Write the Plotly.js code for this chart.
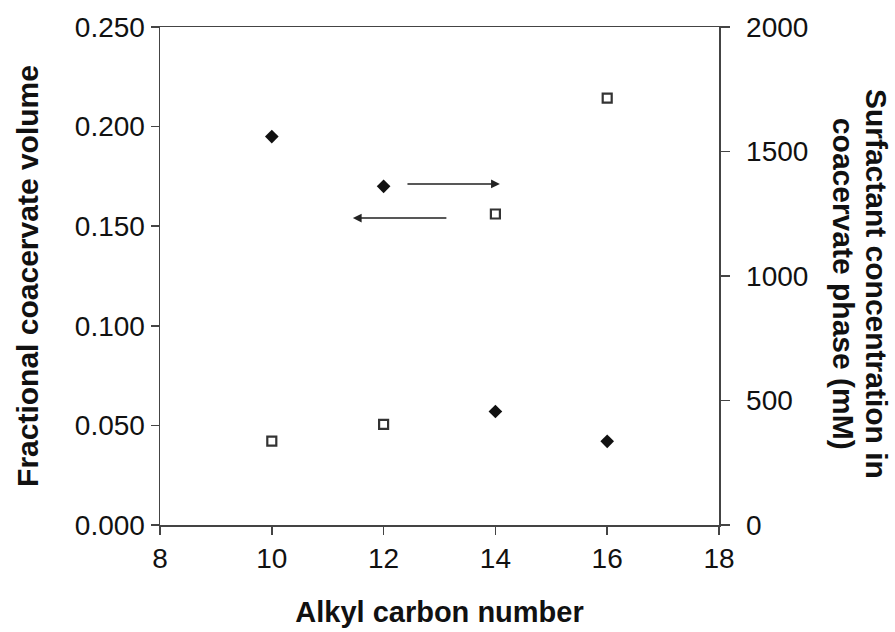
<!DOCTYPE html>
<html>
<head>
<meta charset="utf-8">
<script src="https://cdn.plot.ly/plotly-3.0.1.min.js"></script>
<style>
  html, body { margin: 0; padding: 0; background: #fff; }
  #chart { width: 895px; height: 632px; }
</style>
</head>
<body>
<div id="chart"></div>
<script>
// Alkyl chain length of the surfactant
const carbonNumber = [10, 12, 14, 16];
// Fractional coacervate volume (left axis, filled diamonds)
const coacervateVolume = [0.195, 0.170, 0.057, 0.042];
// Surfactant concentration in coacervate phase, mM (right axis, open squares)
const surfactantConc = [337, 404, 1249, 1714];

// Axis ticks
const xTicks = [8, 10, 12, 14, 16, 18];
const yLeftTicks = [0, 0.05, 0.10, 0.15, 0.20, 0.25];
const yRightTicks = [0, 500, 1000, 1500, 2000];

// Arrows telling which axis each series belongs to: [tailX, headX, y]
const arrowToRight = [12.40, 14.08, 0.1712];
const arrowToLeft = [13.15, 11.45, 0.1541];

const FONT = 'Liberation Sans, Arial, sans-serif';
const INK = '#111';
const AXIS = '#444';

const traces = [
  {
    x: carbonNumber, y: coacervateVolume, type: 'scatter', mode: 'markers',
    name: 'Fractional coacervate volume', yaxis: 'y',
    marker: { symbol: 'diamond', size: 10.5, color: '#111' }
  },
  {
    x: carbonNumber, y: surfactantConc, type: 'scatter', mode: 'markers',
    name: 'Surfactant concentration', yaxis: 'y2',
    marker: { symbol: 'square', size: 9, color: '#fff', line: { color: '#333', width: 2.2 } }
  }
];

function arrow(spec) {
  return {
    xref: 'x', yref: 'y', axref: 'x', ayref: 'y',
    x: spec[1], y: spec[2], ax: spec[0], ay: spec[2],
    text: '', showarrow: true, arrowhead: 2, arrowsize: 1.1,
    arrowwidth: 1.6, arrowcolor: '#222', standoff: 0, startstandoff: 0
  };
}

const layout = {
  width: 895, height: 632,
  margin: { l: 160, r: 176, t: 27, b: 107 },
  paper_bgcolor: '#fff', plot_bgcolor: '#fff',
  showlegend: false,
  font: { family: FONT, color: INK, size: 28 },
  xaxis: {
    range: [8, 18], tickvals: xTicks, ticktext: xTicks.map(String),
    showgrid: false, zeroline: false,
    showline: true, linecolor: AXIS, linewidth: 1.5, mirror: true,
    ticks: 'outside', ticklen: 8, tickwidth: 1.5, tickcolor: AXIS,
    tickfont: { size: 28, color: INK },
    title: { text: '<b>Alkyl carbon number</b>', font: { size: 29, color: INK }, standoff: 28 }
  },
  yaxis: {
    range: [0, 0.25], tickvals: yLeftTicks, tickformat: '.3f',
    showgrid: false, zeroline: false,
    showline: true, linecolor: AXIS, linewidth: 1.5,
    ticks: 'outside', ticklen: 8, tickwidth: 1.5, tickcolor: AXIS,
    tickfont: { size: 28, color: INK },
    title: { text: '<b>Fractional coacervate volume</b>', font: { size: 30, color: INK }, standoff: 27 }
  },
  yaxis2: {
    range: [0, 2000], tickvals: yRightTicks,
    overlaying: 'y', side: 'right',
    showgrid: false, zeroline: false,
    showline: true, linecolor: AXIS, linewidth: 1.5,
    ticks: 'outside', ticklen: 9, tickwidth: 1.5, tickcolor: AXIS,
    ticklabelstandoff: 11,
    tickfont: { size: 28, color: INK }
  },
  annotations: [
    arrow(arrowToRight),
    arrow(arrowToLeft),
    {
      xref: 'paper', yref: 'paper', x: 1.281, y: 0.484,
      xanchor: 'center', yanchor: 'middle', textangle: 90, showarrow: false,
      text: '<b>Surfactant concentration in</b>', font: { size: 30, color: INK }
    },
    {
      xref: 'paper', yref: 'paper', x: 1.222, y: 0.484,
      xanchor: 'center', yanchor: 'middle', textangle: 90, showarrow: false,
      text: '<b>coacervate phase (mM)</b>', font: { size: 30, color: INK }
    }
  ]
};

Plotly.newPlot('chart', traces, layout, { displayModeBar: false, staticPlot: true });
</script>
</body>
</html>
